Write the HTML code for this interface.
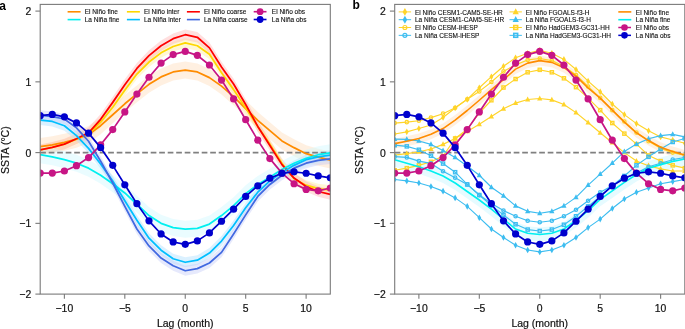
<!DOCTYPE html>
<html><head><meta charset="utf-8"><title>ENSO composites</title>
<style>
html,body{margin:0;padding:0;background:#fff;}
body{width:685px;height:329px;overflow:hidden;}
svg{display:block;}
text{font-family:"Liberation Sans",sans-serif;fill:#111;}
.tk{font-size:10.4px;stroke:#111;stroke-width:0.2px;}
.ti{font-size:10.5px;stroke:#111;stroke-width:0.2px;}
.lg{font-size:6.5px;fill:#111;stroke:#111;stroke-width:0.12px;}
.pl{font-size:12px;font-weight:bold;fill:#000;}
</style></head><body>
<div style="will-change:transform;width:685px;height:329px"><svg width="685" height="329" viewBox="0 0 685 329">
<clipPath id="ca"><rect x="40.20" y="4.40" width="290.10" height="289.70"/></clipPath><g clip-path="url(#ca)"><polygon points="40.20,138.10 52.29,136.33 64.38,133.78 76.46,130.67 88.55,125.93 100.64,117.23 112.73,106.26 124.81,95.29 136.90,85.39 148.99,75.84 161.07,68.41 173.16,63.46 185.25,61.54 197.34,63.46 209.43,69.12 221.51,77.61 233.60,88.22 245.69,100.25 257.78,111.92 269.86,122.18 281.95,132.44 294.04,139.16 306.12,145.17 318.21,148.71 330.30,151.54 330.30,168.52 318.21,165.69 306.12,162.15 294.04,156.14 281.95,149.42 269.86,139.16 257.78,128.90 245.69,117.23 233.60,105.20 221.51,94.59 209.43,86.10 197.34,80.44 185.25,78.52 173.16,80.44 161.07,85.39 148.99,92.82 136.90,102.37 124.81,112.27 112.73,123.24 100.64,134.21 88.55,142.91 76.46,147.65 64.38,150.76 52.29,153.31 40.20,155.08" fill="#FFE2C4" fill-opacity="0.50" stroke="none"/><polygon points="40.20,144.82 52.29,142.34 64.38,139.16 76.46,134.21 88.55,129.25 100.64,117.23 112.73,102.37 124.81,85.39 136.90,69.12 148.99,57.09 161.07,47.89 173.16,41.52 185.25,37.99 197.34,40.82 209.43,49.31 221.51,67.70 233.60,84.68 245.69,103.08 257.78,121.47 269.86,139.16 281.95,158.26 294.04,173.83 306.12,180.19 318.21,183.73 330.30,185.15 330.30,195.05 318.21,193.64 306.12,190.10 294.04,183.73 281.95,168.17 269.86,149.06 257.78,131.38 245.69,112.98 233.60,94.59 221.51,77.61 209.43,59.21 197.34,50.72 185.25,47.89 173.16,51.43 161.07,57.80 148.99,66.99 136.90,79.02 124.81,95.29 112.73,112.27 100.64,127.13 88.55,139.16 76.46,144.11 64.38,149.06 52.29,152.25 40.20,154.72" fill="#FFF0A0" fill-opacity="0.45" stroke="none"/><polygon points="40.20,144.46 52.29,141.99 64.38,138.80 76.46,133.50 88.55,127.48 100.64,114.04 112.73,97.06 124.81,79.37 136.90,63.10 148.99,50.37 161.07,40.46 173.16,33.39 185.25,29.42 197.34,31.97 209.43,42.58 221.51,61.69 233.60,78.67 245.69,99.18 257.78,121.12 269.86,140.22 281.95,159.32 294.04,172.76 306.12,181.25 318.21,186.21 330.30,189.04 330.30,199.65 318.21,196.82 306.12,191.87 294.04,183.38 281.95,169.93 269.86,150.83 257.78,131.73 245.69,109.80 233.60,89.28 221.51,72.30 209.43,53.20 197.34,42.58 185.25,40.04 173.16,44.00 161.07,51.07 148.99,60.98 136.90,73.71 124.81,89.99 112.73,107.67 100.64,124.65 88.55,138.10 76.46,144.11 64.38,149.42 52.29,152.60 40.20,155.08" fill="#FFB0B0" fill-opacity="0.40" stroke="none"/><polygon points="40.20,146.23 52.29,148.36 64.38,151.19 76.46,154.72 88.55,159.68 100.64,166.75 112.73,175.24 124.81,184.44 136.90,195.76 148.99,207.08 161.07,214.86 173.16,219.11 185.25,220.73 197.34,219.81 209.43,215.57 221.51,207.08 233.60,197.17 245.69,185.15 257.78,175.95 269.86,168.87 281.95,161.09 294.04,154.72 306.12,149.77 318.21,146.23 330.30,144.32 330.30,161.30 318.21,163.21 306.12,166.75 294.04,171.70 281.95,178.07 269.86,185.85 257.78,192.93 245.69,202.12 233.60,214.15 221.51,224.06 209.43,232.55 197.34,236.79 185.25,237.71 173.16,236.09 161.07,231.84 148.99,224.06 136.90,212.74 124.81,201.42 112.73,192.22 100.64,183.73 88.55,176.66 76.46,171.70 64.38,168.17 52.29,165.34 40.20,163.21" fill="#D0F8FF" fill-opacity="0.45" stroke="none"/><polygon points="40.20,115.10 52.29,116.52 64.38,120.76 76.46,130.67 88.55,143.40 100.64,158.97 112.73,175.95 124.81,195.76 136.90,215.21 148.99,233.26 161.07,245.28 173.16,253.77 185.25,257.31 197.34,255.19 209.43,248.11 221.51,236.09 233.60,220.52 245.69,202.83 257.78,187.27 269.86,175.95 281.95,167.46 294.04,160.38 306.12,154.72 318.21,151.89 330.30,150.27 330.30,160.17 318.21,161.80 306.12,164.63 294.04,170.29 281.95,177.36 269.86,185.85 257.78,197.17 245.69,212.74 233.60,230.43 221.51,245.99 209.43,258.02 197.34,265.09 185.25,267.22 173.16,263.68 161.07,255.19 148.99,243.16 136.90,225.12 124.81,205.66 112.73,185.85 100.64,168.87 88.55,153.31 76.46,140.57 64.38,130.67 52.29,126.42 40.20,125.01" fill="#B0E0FF" fill-opacity="0.45" stroke="none"/><polygon points="40.20,110.15 52.29,111.57 64.38,114.04 76.46,122.89 88.55,136.33 100.64,156.14 112.73,178.07 124.81,201.42 136.90,224.06 148.99,241.04 161.07,253.07 173.16,260.85 185.25,265.80 197.34,263.68 209.43,258.02 221.51,247.41 233.60,229.01 245.69,209.91 257.78,191.51 269.86,179.49 281.95,170.29 294.04,163.21 306.12,158.26 318.21,155.43 330.30,154.02 330.30,163.92 318.21,165.34 306.12,168.17 294.04,173.12 281.95,180.19 269.86,189.39 257.78,201.42 245.69,219.81 233.60,238.92 221.51,257.31 209.43,267.92 197.34,273.58 185.25,275.71 173.16,270.75 161.07,262.97 148.99,250.94 136.90,233.96 124.81,211.32 112.73,187.98 100.64,166.04 88.55,146.23 76.46,132.79 64.38,123.95 52.29,121.47 40.20,120.06" fill="#C0C8F8" fill-opacity="0.40" stroke="none"/><line x1="40.20" y1="152.60" x2="330.30" y2="152.60" stroke="#808080" stroke-width="1.6" stroke-dasharray="5.7,2.8"/><polyline points="40.20,146.59 52.29,144.82 64.38,142.27 76.46,139.16 88.55,134.42 100.64,125.72 112.73,114.75 124.81,103.78 136.90,93.88 148.99,84.33 161.07,76.90 173.16,71.95 185.25,70.03 197.34,71.95 209.43,77.61 221.51,86.10 233.60,96.71 245.69,108.74 257.78,120.41 269.86,130.67 281.95,140.93 294.04,147.65 306.12,153.66 318.21,157.20 330.30,160.03" fill="none" stroke="#FF8C00" stroke-width="1.75" stroke-linejoin="round"/><polyline points="40.20,149.77 52.29,147.29 64.38,144.11 76.46,139.16 88.55,134.21 100.64,122.18 112.73,107.32 124.81,90.34 136.90,74.07 148.99,62.04 161.07,52.84 173.16,46.48 185.25,42.94 197.34,45.77 209.43,54.26 221.51,72.65 233.60,89.63 245.69,108.03 257.78,126.42 269.86,144.11 281.95,163.21 294.04,178.78 306.12,185.15 318.21,188.68 330.30,190.10" fill="none" stroke="#FFD700" stroke-width="1.75" stroke-linejoin="round"/><polyline points="40.20,149.77 52.29,147.29 64.38,144.11 76.46,138.80 88.55,132.79 100.64,119.35 112.73,102.37 124.81,84.68 136.90,68.41 148.99,55.67 161.07,45.77 173.16,38.69 185.25,34.73 197.34,37.28 209.43,47.89 221.51,66.99 233.60,83.97 245.69,104.49 257.78,126.42 269.86,145.53 281.95,164.63 294.04,178.07 306.12,186.56 318.21,191.51 330.30,194.34" fill="none" stroke="#FF0000" stroke-width="1.75" stroke-linejoin="round"/><polyline points="40.20,154.72 52.29,156.85 64.38,159.68 76.46,163.21 88.55,168.17 100.64,175.24 112.73,183.73 124.81,192.93 136.90,204.25 148.99,215.57 161.07,223.35 173.16,227.60 185.25,229.22 197.34,228.30 209.43,224.06 221.51,215.57 233.60,205.66 245.69,193.64 257.78,184.44 269.86,177.36 281.95,169.58 294.04,163.21 306.12,158.26 318.21,154.72 330.30,152.81" fill="none" stroke="#00F0F0" stroke-width="1.75" stroke-linejoin="round"/><polyline points="40.20,120.06 52.29,121.47 64.38,125.72 76.46,135.62 88.55,148.36 100.64,163.92 112.73,180.90 124.81,200.71 136.90,220.17 148.99,238.21 161.07,250.24 173.16,258.73 185.25,262.26 197.34,260.14 209.43,253.07 221.51,241.04 233.60,225.47 245.69,207.79 257.78,192.22 269.86,180.90 281.95,172.41 294.04,165.34 306.12,159.68 318.21,156.85 330.30,155.22" fill="none" stroke="#00BFFF" stroke-width="1.75" stroke-linejoin="round"/><polyline points="40.20,115.10 52.29,116.52 64.38,118.99 76.46,127.84 88.55,141.28 100.64,161.09 112.73,183.02 124.81,206.37 136.90,229.01 148.99,245.99 161.07,258.02 173.16,265.80 185.25,270.75 197.34,268.63 209.43,262.97 221.51,252.36 233.60,233.96 245.69,214.86 257.78,196.47 269.86,184.44 281.95,175.24 294.04,168.17 306.12,163.21 318.21,160.38 330.30,158.97" fill="none" stroke="#4169E1" stroke-width="1.75" stroke-linejoin="round"/><polyline points="40.20,173.12 52.29,173.12 64.38,171.00 76.46,165.69 88.55,157.55 100.64,144.82 112.73,129.61 124.81,111.92 136.90,94.09 148.99,77.25 161.07,63.10 173.16,54.61 185.25,51.43 197.34,55.32 209.43,65.01 221.51,80.08 233.60,98.97 245.69,119.70 257.78,140.22 269.86,158.61 281.95,173.12 294.04,183.73 306.12,189.39 318.21,190.81 330.30,187.98" fill="none" stroke="#C71585" stroke-width="1.70" stroke-linejoin="round"/><circle cx="40.20" cy="173.12" r="3.60" fill="#C71585"/><circle cx="52.29" cy="173.12" r="3.60" fill="#C71585"/><circle cx="64.38" cy="171.00" r="3.60" fill="#C71585"/><circle cx="76.46" cy="165.69" r="3.60" fill="#C71585"/><circle cx="88.55" cy="157.55" r="3.60" fill="#C71585"/><circle cx="100.64" cy="144.82" r="3.60" fill="#C71585"/><circle cx="112.73" cy="129.61" r="3.60" fill="#C71585"/><circle cx="124.81" cy="111.92" r="3.60" fill="#C71585"/><circle cx="136.90" cy="94.09" r="3.60" fill="#C71585"/><circle cx="148.99" cy="77.25" r="3.60" fill="#C71585"/><circle cx="161.07" cy="63.10" r="3.60" fill="#C71585"/><circle cx="173.16" cy="54.61" r="3.60" fill="#C71585"/><circle cx="185.25" cy="51.43" r="3.60" fill="#C71585"/><circle cx="197.34" cy="55.32" r="3.60" fill="#C71585"/><circle cx="209.43" cy="65.01" r="3.60" fill="#C71585"/><circle cx="221.51" cy="80.08" r="3.60" fill="#C71585"/><circle cx="233.60" cy="98.97" r="3.60" fill="#C71585"/><circle cx="245.69" cy="119.70" r="3.60" fill="#C71585"/><circle cx="257.78" cy="140.22" r="3.60" fill="#C71585"/><circle cx="269.86" cy="158.61" r="3.60" fill="#C71585"/><circle cx="281.95" cy="173.12" r="3.60" fill="#C71585"/><circle cx="294.04" cy="183.73" r="3.60" fill="#C71585"/><circle cx="306.12" cy="189.39" r="3.60" fill="#C71585"/><circle cx="318.21" cy="190.81" r="3.60" fill="#C71585"/><circle cx="330.30" cy="187.98" r="3.60" fill="#C71585"/><polyline points="40.20,115.67 52.29,114.40 64.38,116.87 76.46,122.89 88.55,133.14 100.64,147.65 112.73,165.34 124.81,184.79 136.90,203.68 148.99,220.87 161.07,233.96 173.16,241.96 185.25,244.36 197.34,240.90 209.43,232.90 221.51,221.23 233.60,209.20 245.69,196.47 257.78,185.85 269.86,178.21 281.95,173.26 294.04,171.84 306.12,173.26 318.21,175.95 330.30,177.79" fill="none" stroke="#0000CD" stroke-width="1.70" stroke-linejoin="round"/><circle cx="40.20" cy="115.67" r="3.60" fill="#0000CD"/><circle cx="52.29" cy="114.40" r="3.60" fill="#0000CD"/><circle cx="64.38" cy="116.87" r="3.60" fill="#0000CD"/><circle cx="76.46" cy="122.89" r="3.60" fill="#0000CD"/><circle cx="88.55" cy="133.14" r="3.60" fill="#0000CD"/><circle cx="100.64" cy="147.65" r="3.60" fill="#0000CD"/><circle cx="112.73" cy="165.34" r="3.60" fill="#0000CD"/><circle cx="124.81" cy="184.79" r="3.60" fill="#0000CD"/><circle cx="136.90" cy="203.68" r="3.60" fill="#0000CD"/><circle cx="148.99" cy="220.87" r="3.60" fill="#0000CD"/><circle cx="161.07" cy="233.96" r="3.60" fill="#0000CD"/><circle cx="173.16" cy="241.96" r="3.60" fill="#0000CD"/><circle cx="185.25" cy="244.36" r="3.60" fill="#0000CD"/><circle cx="197.34" cy="240.90" r="3.60" fill="#0000CD"/><circle cx="209.43" cy="232.90" r="3.60" fill="#0000CD"/><circle cx="221.51" cy="221.23" r="3.60" fill="#0000CD"/><circle cx="233.60" cy="209.20" r="3.60" fill="#0000CD"/><circle cx="245.69" cy="196.47" r="3.60" fill="#0000CD"/><circle cx="257.78" cy="185.85" r="3.60" fill="#0000CD"/><circle cx="269.86" cy="178.21" r="3.60" fill="#0000CD"/><circle cx="281.95" cy="173.26" r="3.60" fill="#0000CD"/><circle cx="294.04" cy="171.84" r="3.60" fill="#0000CD"/><circle cx="306.12" cy="173.26" r="3.60" fill="#0000CD"/><circle cx="318.21" cy="175.95" r="3.60" fill="#0000CD"/><circle cx="330.30" cy="177.79" r="3.60" fill="#0000CD"/></g><rect x="40.20" y="4.40" width="290.10" height="289.70" fill="none" stroke="#7a7a7a" stroke-width="1.1"/><line x1="35.40" y1="11.10" x2="40.20" y2="11.10" stroke="#7a7a7a" stroke-width="1.1"/><text x="31.20" y="15.10" text-anchor="end" class="tk">2</text><line x1="35.40" y1="81.85" x2="40.20" y2="81.85" stroke="#7a7a7a" stroke-width="1.1"/><text x="31.20" y="85.85" text-anchor="end" class="tk">1</text><line x1="35.40" y1="152.60" x2="40.20" y2="152.60" stroke="#7a7a7a" stroke-width="1.1"/><text x="31.20" y="156.60" text-anchor="end" class="tk">0</text><line x1="35.40" y1="223.35" x2="40.20" y2="223.35" stroke="#7a7a7a" stroke-width="1.1"/><text x="31.20" y="227.35" text-anchor="end" class="tk">−1</text><line x1="35.40" y1="294.10" x2="40.20" y2="294.10" stroke="#7a7a7a" stroke-width="1.1"/><text x="31.20" y="298.10" text-anchor="end" class="tk">−2</text><line x1="64.38" y1="294.10" x2="64.38" y2="298.70" stroke="#7a7a7a" stroke-width="1.1"/><text x="64.38" y="312.00" text-anchor="middle" class="tk">−10</text><line x1="124.81" y1="294.10" x2="124.81" y2="298.70" stroke="#7a7a7a" stroke-width="1.1"/><text x="124.81" y="312.00" text-anchor="middle" class="tk">−5</text><line x1="185.25" y1="294.10" x2="185.25" y2="298.70" stroke="#7a7a7a" stroke-width="1.1"/><text x="185.25" y="312.00" text-anchor="middle" class="tk">0</text><line x1="245.69" y1="294.10" x2="245.69" y2="298.70" stroke="#7a7a7a" stroke-width="1.1"/><text x="245.69" y="312.00" text-anchor="middle" class="tk">5</text><line x1="306.12" y1="294.10" x2="306.12" y2="298.70" stroke="#7a7a7a" stroke-width="1.1"/><text x="306.12" y="312.00" text-anchor="middle" class="tk">10</text><text x="185.25" y="326.70" text-anchor="middle" class="ti">Lag (month)</text><text transform="translate(8.50,150.20) rotate(-90)" text-anchor="middle" class="ti">SSTA (°C)</text><line x1="67.60" y1="11.80" x2="80.60" y2="11.80" stroke="#FF8C00" stroke-width="1.60"/><text x="84.70" y="14.40" class="lg">El Niño fine</text><line x1="67.60" y1="19.60" x2="80.60" y2="19.60" stroke="#00F0F0" stroke-width="1.60"/><text x="84.70" y="22.20" class="lg">La Niña fine</text><line x1="126.90" y1="11.80" x2="139.90" y2="11.80" stroke="#FFD700" stroke-width="1.60"/><text x="144.00" y="14.40" class="lg">El Niño inter</text><line x1="126.90" y1="19.60" x2="139.90" y2="19.60" stroke="#00BFFF" stroke-width="1.60"/><text x="144.00" y="22.20" class="lg">La Niña inter</text><line x1="186.90" y1="11.80" x2="199.90" y2="11.80" stroke="#FF0000" stroke-width="1.60"/><text x="204.00" y="14.40" class="lg">El Niño coarse</text><line x1="186.90" y1="19.60" x2="199.90" y2="19.60" stroke="#4169E1" stroke-width="1.60"/><text x="204.00" y="22.20" class="lg">La Niña coarse</text><line x1="253.7" y1="11.7" x2="266.5" y2="11.7" stroke="#C71585" stroke-width="1.6"/><circle cx="260.1" cy="11.7" r="3.4" fill="#C71585"/><text x="271.80" y="14.30" class="lg">El Niño obs</text><line x1="253.7" y1="19.5" x2="266.5" y2="19.5" stroke="#0000CD" stroke-width="1.6"/><circle cx="260.1" cy="19.5" r="3.4" fill="#0000CD"/><text x="271.80" y="22.10" class="lg">La Niña obs</text>
<clipPath id="cb"><rect x="394.70" y="4.40" width="290.10" height="289.70"/></clipPath><g clip-path="url(#cb)"><polygon points="394.70,138.66 406.79,136.33 418.88,133.50 430.96,129.25 443.05,123.59 455.14,115.10 467.23,105.55 479.31,95.29 491.40,84.68 503.49,74.78 515.58,64.16 527.66,58.15 539.75,55.67 551.84,57.44 563.92,62.75 576.01,71.24 588.10,83.05 600.19,93.17 612.27,105.20 624.36,117.23 636.45,127.84 648.54,135.62 660.62,142.27 672.71,146.59 684.80,150.12 684.80,160.03 672.71,156.49 660.62,152.18 648.54,145.53 636.45,137.74 624.36,127.13 612.27,115.10 600.19,103.08 588.10,92.96 576.01,81.14 563.92,72.65 551.84,67.35 539.75,65.58 527.66,68.05 515.58,74.07 503.49,84.68 491.40,94.59 479.31,105.20 467.23,115.46 455.14,125.01 443.05,133.50 430.96,139.16 418.88,143.40 406.79,146.23 394.70,148.57" fill="#FFE2C4" fill-opacity="0.50" stroke="none"/><polygon points="394.70,152.60 406.79,156.14 418.88,159.68 430.96,163.92 443.05,168.87 455.14,175.95 467.23,184.44 479.31,192.93 491.40,202.13 503.49,212.03 515.58,221.94 527.66,226.18 539.75,227.45 551.84,226.18 563.92,221.94 576.01,213.44 588.10,203.54 600.19,192.22 612.27,183.73 624.36,175.24 636.45,167.46 648.54,161.09 660.62,157.55 672.71,154.37 684.80,151.89 684.80,166.04 672.71,168.52 660.62,171.70 648.54,175.24 636.45,181.61 624.36,189.39 612.27,197.88 600.19,206.37 588.10,217.69 576.01,227.60 563.92,236.09 551.84,240.33 539.75,241.60 527.66,240.33 515.58,236.09 503.49,226.18 491.40,216.28 479.31,207.08 467.23,198.59 455.14,190.10 443.05,183.02 430.96,178.07 418.88,173.83 406.79,170.29 394.70,166.75" fill="#C4F6FF" fill-opacity="0.42" stroke="none"/><line x1="394.70" y1="152.60" x2="684.80" y2="152.60" stroke="#808080" stroke-width="1.6" stroke-dasharray="5.7,2.8"/><polyline points="394.70,133.99 406.79,131.87 418.88,128.55 430.96,125.01 443.05,117.51 455.14,108.03 467.23,99.33 479.31,87.72 491.40,76.69 503.49,66.29 515.58,57.80 527.66,53.20 539.75,50.37 551.84,53.20 563.92,59.42 576.01,69.47 588.10,81.14 600.19,91.76 612.27,103.99 624.36,114.61 636.45,123.59 648.54,130.81 660.62,136.89 672.71,140.01 684.80,143.26" fill="none" stroke="#FFD42A" stroke-width="1.15" stroke-linejoin="round"/><path d="M394.70 130.69L396.60 133.99L394.70 137.29L392.80 133.99Z" fill="#FFD42A"/><path d="M406.79 128.57L408.69 131.87L406.79 135.17L404.89 131.87Z" fill="#FFD42A"/><path d="M418.88 125.25L420.77 128.55L418.88 131.85L416.98 128.55Z" fill="#FFD42A"/><path d="M430.96 121.71L432.86 125.01L430.96 128.31L429.06 125.01Z" fill="#FFD42A"/><path d="M443.05 114.21L444.95 117.51L443.05 120.81L441.15 117.51Z" fill="#FFD42A"/><path d="M455.14 104.73L457.04 108.03L455.14 111.33L453.24 108.03Z" fill="#FFD42A"/><path d="M467.23 96.03L469.12 99.33L467.23 102.63L465.33 99.33Z" fill="#FFD42A"/><path d="M479.31 84.42L481.21 87.72L479.31 91.02L477.41 87.72Z" fill="#FFD42A"/><path d="M491.40 73.39L493.30 76.69L491.40 79.99L489.50 76.69Z" fill="#FFD42A"/><path d="M503.49 62.99L505.39 66.29L503.49 69.59L501.59 66.29Z" fill="#FFD42A"/><path d="M515.58 54.50L517.48 57.80L515.58 61.10L513.68 57.80Z" fill="#FFD42A"/><path d="M527.66 49.90L529.56 53.20L527.66 56.50L525.76 53.20Z" fill="#FFD42A"/><path d="M539.75 47.07L541.65 50.37L539.75 53.67L537.85 50.37Z" fill="#FFD42A"/><path d="M551.84 49.90L553.74 53.20L551.84 56.50L549.94 53.20Z" fill="#FFD42A"/><path d="M563.92 56.12L565.82 59.42L563.92 62.72L562.02 59.42Z" fill="#FFD42A"/><path d="M576.01 66.17L577.91 69.47L576.01 72.77L574.11 69.47Z" fill="#FFD42A"/><path d="M588.10 77.84L590.00 81.14L588.10 84.44L586.20 81.14Z" fill="#FFD42A"/><path d="M600.19 88.46L602.09 91.76L600.19 95.06L598.29 91.76Z" fill="#FFD42A"/><path d="M612.27 100.69L614.17 103.99L612.27 107.29L610.38 103.99Z" fill="#FFD42A"/><path d="M624.36 111.31L626.26 114.61L624.36 117.91L622.46 114.61Z" fill="#FFD42A"/><path d="M636.45 120.29L638.35 123.59L636.45 126.89L634.55 123.59Z" fill="#FFD42A"/><path d="M648.54 127.51L650.44 130.81L648.54 134.11L646.64 130.81Z" fill="#FFD42A"/><path d="M660.62 133.59L662.52 136.89L660.62 140.19L658.73 136.89Z" fill="#FFD42A"/><path d="M672.71 136.71L674.61 140.01L672.71 143.31L670.81 140.01Z" fill="#FFD42A"/><path d="M684.80 139.96L686.70 143.26L684.80 146.56L682.90 143.26Z" fill="#FFD42A"/><polyline points="394.70,123.10 406.79,122.18 418.88,120.76 430.96,117.58 443.05,113.69 455.14,107.74 467.23,99.33 479.31,91.40 491.40,81.99 503.49,71.38 515.58,64.87 527.66,59.92 539.75,58.50 551.84,60.63 563.92,66.29 576.01,74.99 588.10,86.52 600.19,97.91 612.27,110.15 624.36,121.47 636.45,132.58 648.54,141.28 660.62,148.36 672.71,152.60 684.80,155.43" fill="none" stroke="#FFD42A" stroke-width="1.15" stroke-linejoin="round"/><circle cx="394.70" cy="123.10" r="1.70" fill="none" stroke="#FFD42A" stroke-width="1.25"/><circle cx="406.79" cy="122.18" r="1.70" fill="none" stroke="#FFD42A" stroke-width="1.25"/><circle cx="418.88" cy="120.76" r="1.70" fill="none" stroke="#FFD42A" stroke-width="1.25"/><circle cx="430.96" cy="117.58" r="1.70" fill="none" stroke="#FFD42A" stroke-width="1.25"/><circle cx="443.05" cy="113.69" r="1.70" fill="none" stroke="#FFD42A" stroke-width="1.25"/><circle cx="455.14" cy="107.74" r="1.70" fill="none" stroke="#FFD42A" stroke-width="1.25"/><circle cx="467.23" cy="99.33" r="1.70" fill="none" stroke="#FFD42A" stroke-width="1.25"/><circle cx="479.31" cy="91.40" r="1.70" fill="none" stroke="#FFD42A" stroke-width="1.25"/><circle cx="491.40" cy="81.99" r="1.70" fill="none" stroke="#FFD42A" stroke-width="1.25"/><circle cx="503.49" cy="71.38" r="1.70" fill="none" stroke="#FFD42A" stroke-width="1.25"/><circle cx="515.58" cy="64.87" r="1.70" fill="none" stroke="#FFD42A" stroke-width="1.25"/><circle cx="527.66" cy="59.92" r="1.70" fill="none" stroke="#FFD42A" stroke-width="1.25"/><circle cx="539.75" cy="58.50" r="1.70" fill="none" stroke="#FFD42A" stroke-width="1.25"/><circle cx="551.84" cy="60.63" r="1.70" fill="none" stroke="#FFD42A" stroke-width="1.25"/><circle cx="563.92" cy="66.29" r="1.70" fill="none" stroke="#FFD42A" stroke-width="1.25"/><circle cx="576.01" cy="74.99" r="1.70" fill="none" stroke="#FFD42A" stroke-width="1.25"/><circle cx="588.10" cy="86.52" r="1.70" fill="none" stroke="#FFD42A" stroke-width="1.25"/><circle cx="600.19" cy="97.91" r="1.70" fill="none" stroke="#FFD42A" stroke-width="1.25"/><circle cx="612.27" cy="110.15" r="1.70" fill="none" stroke="#FFD42A" stroke-width="1.25"/><circle cx="624.36" cy="121.47" r="1.70" fill="none" stroke="#FFD42A" stroke-width="1.25"/><circle cx="636.45" cy="132.58" r="1.70" fill="none" stroke="#FFD42A" stroke-width="1.25"/><circle cx="648.54" cy="141.28" r="1.70" fill="none" stroke="#FFD42A" stroke-width="1.25"/><circle cx="660.62" cy="148.36" r="1.70" fill="none" stroke="#FFD42A" stroke-width="1.25"/><circle cx="672.71" cy="152.60" r="1.70" fill="none" stroke="#FFD42A" stroke-width="1.25"/><circle cx="684.80" cy="155.43" r="1.70" fill="none" stroke="#FFD42A" stroke-width="1.25"/><polyline points="394.70,155.08 406.79,153.59 418.88,151.89 430.96,149.06 443.05,144.39 455.14,138.45 467.23,131.38 479.31,124.30 491.40,116.52 503.49,108.74 515.58,103.08 527.66,99.54 539.75,98.48 551.84,99.89 563.92,104.49 576.01,112.63 588.10,122.53 600.19,132.79 612.27,142.70 624.36,152.60 636.45,161.09 648.54,165.69 660.62,168.87 672.71,171.00 684.80,171.00" fill="none" stroke="#FFD42A" stroke-width="1.15" stroke-linejoin="round"/><path d="M394.70 151.98L397.30 156.98L392.10 156.98Z" fill="#FFD42A"/><path d="M406.79 150.49L409.39 155.49L404.19 155.49Z" fill="#FFD42A"/><path d="M418.88 148.79L421.48 153.79L416.27 153.79Z" fill="#FFD42A"/><path d="M430.96 145.96L433.56 150.96L428.36 150.96Z" fill="#FFD42A"/><path d="M443.05 141.29L445.65 146.29L440.45 146.29Z" fill="#FFD42A"/><path d="M455.14 135.35L457.74 140.35L452.54 140.35Z" fill="#FFD42A"/><path d="M467.23 128.28L469.83 133.28L464.62 133.28Z" fill="#FFD42A"/><path d="M479.31 121.20L481.91 126.20L476.71 126.20Z" fill="#FFD42A"/><path d="M491.40 113.42L494.00 118.42L488.80 118.42Z" fill="#FFD42A"/><path d="M503.49 105.64L506.09 110.64L500.89 110.64Z" fill="#FFD42A"/><path d="M515.58 99.98L518.18 104.98L512.98 104.98Z" fill="#FFD42A"/><path d="M527.66 96.44L530.26 101.44L525.06 101.44Z" fill="#FFD42A"/><path d="M539.75 95.38L542.35 100.38L537.15 100.38Z" fill="#FFD42A"/><path d="M551.84 96.79L554.44 101.79L549.24 101.79Z" fill="#FFD42A"/><path d="M563.92 101.39L566.52 106.39L561.32 106.39Z" fill="#FFD42A"/><path d="M576.01 109.53L578.61 114.53L573.41 114.53Z" fill="#FFD42A"/><path d="M588.10 119.43L590.70 124.43L585.50 124.43Z" fill="#FFD42A"/><path d="M600.19 129.69L602.79 134.69L597.59 134.69Z" fill="#FFD42A"/><path d="M612.27 139.60L614.88 144.60L609.67 144.60Z" fill="#FFD42A"/><path d="M624.36 149.50L626.96 154.50L621.76 154.50Z" fill="#FFD42A"/><path d="M636.45 157.99L639.05 162.99L633.85 162.99Z" fill="#FFD42A"/><path d="M648.54 162.59L651.14 167.59L645.94 167.59Z" fill="#FFD42A"/><path d="M660.62 165.77L663.23 170.77L658.02 170.77Z" fill="#FFD42A"/><path d="M672.71 167.90L675.31 172.90L670.11 172.90Z" fill="#FFD42A"/><path d="M684.80 167.90L687.40 172.90L682.20 172.90Z" fill="#FFD42A"/><polyline points="394.70,170.29 406.79,168.17 418.88,165.34 430.96,161.80 443.05,156.14 455.14,138.45 467.23,129.25 479.31,112.98 491.40,100.25 503.49,87.51 515.58,79.02 527.66,72.30 539.75,69.82 551.84,72.30 563.92,78.31 576.01,87.16 588.10,98.12 600.19,110.15 612.27,123.03 624.36,133.64 636.45,144.11 648.54,155.43 660.62,161.09 672.71,165.34 684.80,168.17" fill="none" stroke="#FFD42A" stroke-width="1.15" stroke-linejoin="round"/><rect x="393.10" y="168.69" width="3.20" height="3.20" fill="none" stroke="#FFD42A" stroke-width="1.35"/><rect x="405.19" y="166.57" width="3.20" height="3.20" fill="none" stroke="#FFD42A" stroke-width="1.35"/><rect x="417.27" y="163.74" width="3.20" height="3.20" fill="none" stroke="#FFD42A" stroke-width="1.35"/><rect x="429.36" y="160.20" width="3.20" height="3.20" fill="none" stroke="#FFD42A" stroke-width="1.35"/><rect x="441.45" y="154.54" width="3.20" height="3.20" fill="none" stroke="#FFD42A" stroke-width="1.35"/><rect x="453.54" y="136.85" width="3.20" height="3.20" fill="none" stroke="#FFD42A" stroke-width="1.35"/><rect x="465.62" y="127.65" width="3.20" height="3.20" fill="none" stroke="#FFD42A" stroke-width="1.35"/><rect x="477.71" y="111.38" width="3.20" height="3.20" fill="none" stroke="#FFD42A" stroke-width="1.35"/><rect x="489.80" y="98.65" width="3.20" height="3.20" fill="none" stroke="#FFD42A" stroke-width="1.35"/><rect x="501.89" y="85.91" width="3.20" height="3.20" fill="none" stroke="#FFD42A" stroke-width="1.35"/><rect x="513.98" y="77.42" width="3.20" height="3.20" fill="none" stroke="#FFD42A" stroke-width="1.35"/><rect x="526.06" y="70.70" width="3.20" height="3.20" fill="none" stroke="#FFD42A" stroke-width="1.35"/><rect x="538.15" y="68.22" width="3.20" height="3.20" fill="none" stroke="#FFD42A" stroke-width="1.35"/><rect x="550.24" y="70.70" width="3.20" height="3.20" fill="none" stroke="#FFD42A" stroke-width="1.35"/><rect x="562.32" y="76.71" width="3.20" height="3.20" fill="none" stroke="#FFD42A" stroke-width="1.35"/><rect x="574.41" y="85.56" width="3.20" height="3.20" fill="none" stroke="#FFD42A" stroke-width="1.35"/><rect x="586.50" y="96.52" width="3.20" height="3.20" fill="none" stroke="#FFD42A" stroke-width="1.35"/><rect x="598.59" y="108.55" width="3.20" height="3.20" fill="none" stroke="#FFD42A" stroke-width="1.35"/><rect x="610.67" y="121.43" width="3.20" height="3.20" fill="none" stroke="#FFD42A" stroke-width="1.35"/><rect x="622.76" y="132.04" width="3.20" height="3.20" fill="none" stroke="#FFD42A" stroke-width="1.35"/><rect x="634.85" y="142.51" width="3.20" height="3.20" fill="none" stroke="#FFD42A" stroke-width="1.35"/><rect x="646.94" y="153.83" width="3.20" height="3.20" fill="none" stroke="#FFD42A" stroke-width="1.35"/><rect x="659.02" y="159.49" width="3.20" height="3.20" fill="none" stroke="#FFD42A" stroke-width="1.35"/><rect x="671.11" y="163.74" width="3.20" height="3.20" fill="none" stroke="#FFD42A" stroke-width="1.35"/><rect x="683.20" y="166.57" width="3.20" height="3.20" fill="none" stroke="#FFD42A" stroke-width="1.35"/><polyline points="394.70,179.49 406.79,180.90 418.88,183.02 430.96,186.56 443.05,191.16 455.14,197.88 467.23,206.37 479.31,217.69 491.40,229.01 503.49,237.50 515.58,245.28 527.66,249.95 539.75,251.93 551.84,249.95 563.92,245.28 576.01,237.50 588.10,227.60 600.19,219.11 612.27,208.49 624.36,198.94 636.45,192.22 648.54,187.98 660.62,183.73 672.71,181.61 684.80,179.49" fill="none" stroke="#3DBDF0" stroke-width="1.15" stroke-linejoin="round"/><path d="M394.70 176.19L396.60 179.49L394.70 182.79L392.80 179.49Z" fill="#3DBDF0"/><path d="M406.79 177.60L408.69 180.90L406.79 184.20L404.89 180.90Z" fill="#3DBDF0"/><path d="M418.88 179.72L420.77 183.02L418.88 186.32L416.98 183.02Z" fill="#3DBDF0"/><path d="M430.96 183.26L432.86 186.56L430.96 189.86L429.06 186.56Z" fill="#3DBDF0"/><path d="M443.05 187.86L444.95 191.16L443.05 194.46L441.15 191.16Z" fill="#3DBDF0"/><path d="M455.14 194.58L457.04 197.88L455.14 201.18L453.24 197.88Z" fill="#3DBDF0"/><path d="M467.23 203.07L469.12 206.37L467.23 209.67L465.33 206.37Z" fill="#3DBDF0"/><path d="M479.31 214.39L481.21 217.69L479.31 220.99L477.41 217.69Z" fill="#3DBDF0"/><path d="M491.40 225.71L493.30 229.01L491.40 232.31L489.50 229.01Z" fill="#3DBDF0"/><path d="M503.49 234.20L505.39 237.50L503.49 240.80L501.59 237.50Z" fill="#3DBDF0"/><path d="M515.58 241.98L517.48 245.28L515.58 248.58L513.68 245.28Z" fill="#3DBDF0"/><path d="M527.66 246.65L529.56 249.95L527.66 253.25L525.76 249.95Z" fill="#3DBDF0"/><path d="M539.75 248.63L541.65 251.93L539.75 255.23L537.85 251.93Z" fill="#3DBDF0"/><path d="M551.84 246.65L553.74 249.95L551.84 253.25L549.94 249.95Z" fill="#3DBDF0"/><path d="M563.92 241.98L565.82 245.28L563.92 248.58L562.02 245.28Z" fill="#3DBDF0"/><path d="M576.01 234.20L577.91 237.50L576.01 240.80L574.11 237.50Z" fill="#3DBDF0"/><path d="M588.10 224.30L590.00 227.60L588.10 230.90L586.20 227.60Z" fill="#3DBDF0"/><path d="M600.19 215.81L602.09 219.11L600.19 222.41L598.29 219.11Z" fill="#3DBDF0"/><path d="M612.27 205.19L614.17 208.49L612.27 211.79L610.38 208.49Z" fill="#3DBDF0"/><path d="M624.36 195.64L626.26 198.94L624.36 202.24L622.46 198.94Z" fill="#3DBDF0"/><path d="M636.45 188.92L638.35 192.22L636.45 195.52L634.55 192.22Z" fill="#3DBDF0"/><path d="M648.54 184.68L650.44 187.98L648.54 191.28L646.64 187.98Z" fill="#3DBDF0"/><path d="M660.62 180.43L662.52 183.73L660.62 187.03L658.73 183.73Z" fill="#3DBDF0"/><path d="M672.71 178.31L674.61 181.61L672.71 184.91L670.81 181.61Z" fill="#3DBDF0"/><path d="M684.80 176.19L686.70 179.49L684.80 182.79L682.90 179.49Z" fill="#3DBDF0"/><polyline points="394.70,156.63 406.79,157.41 418.88,161.09 430.96,163.42 443.05,171.21 455.14,177.65 467.23,184.44 479.31,195.05 491.40,203.54 503.49,210.62 515.58,216.28 527.66,220.73 539.75,222.29 551.84,220.73 563.92,216.28 576.01,209.70 588.10,200.71 600.19,192.22 612.27,185.85 624.36,178.78 636.45,173.12 648.54,166.75 660.62,163.21 672.71,159.68 684.80,157.55" fill="none" stroke="#3DBDF0" stroke-width="1.15" stroke-linejoin="round"/><circle cx="394.70" cy="156.63" r="1.70" fill="none" stroke="#3DBDF0" stroke-width="1.25"/><circle cx="406.79" cy="157.41" r="1.70" fill="none" stroke="#3DBDF0" stroke-width="1.25"/><circle cx="418.88" cy="161.09" r="1.70" fill="none" stroke="#3DBDF0" stroke-width="1.25"/><circle cx="430.96" cy="163.42" r="1.70" fill="none" stroke="#3DBDF0" stroke-width="1.25"/><circle cx="443.05" cy="171.21" r="1.70" fill="none" stroke="#3DBDF0" stroke-width="1.25"/><circle cx="455.14" cy="177.65" r="1.70" fill="none" stroke="#3DBDF0" stroke-width="1.25"/><circle cx="467.23" cy="184.44" r="1.70" fill="none" stroke="#3DBDF0" stroke-width="1.25"/><circle cx="479.31" cy="195.05" r="1.70" fill="none" stroke="#3DBDF0" stroke-width="1.25"/><circle cx="491.40" cy="203.54" r="1.70" fill="none" stroke="#3DBDF0" stroke-width="1.25"/><circle cx="503.49" cy="210.62" r="1.70" fill="none" stroke="#3DBDF0" stroke-width="1.25"/><circle cx="515.58" cy="216.28" r="1.70" fill="none" stroke="#3DBDF0" stroke-width="1.25"/><circle cx="527.66" cy="220.73" r="1.70" fill="none" stroke="#3DBDF0" stroke-width="1.25"/><circle cx="539.75" cy="222.29" r="1.70" fill="none" stroke="#3DBDF0" stroke-width="1.25"/><circle cx="551.84" cy="220.73" r="1.70" fill="none" stroke="#3DBDF0" stroke-width="1.25"/><circle cx="563.92" cy="216.28" r="1.70" fill="none" stroke="#3DBDF0" stroke-width="1.25"/><circle cx="576.01" cy="209.70" r="1.70" fill="none" stroke="#3DBDF0" stroke-width="1.25"/><circle cx="588.10" cy="200.71" r="1.70" fill="none" stroke="#3DBDF0" stroke-width="1.25"/><circle cx="600.19" cy="192.22" r="1.70" fill="none" stroke="#3DBDF0" stroke-width="1.25"/><circle cx="612.27" cy="185.85" r="1.70" fill="none" stroke="#3DBDF0" stroke-width="1.25"/><circle cx="624.36" cy="178.78" r="1.70" fill="none" stroke="#3DBDF0" stroke-width="1.25"/><circle cx="636.45" cy="173.12" r="1.70" fill="none" stroke="#3DBDF0" stroke-width="1.25"/><circle cx="648.54" cy="166.75" r="1.70" fill="none" stroke="#3DBDF0" stroke-width="1.25"/><circle cx="660.62" cy="163.21" r="1.70" fill="none" stroke="#3DBDF0" stroke-width="1.25"/><circle cx="672.71" cy="159.68" r="1.70" fill="none" stroke="#3DBDF0" stroke-width="1.25"/><circle cx="684.80" cy="157.55" r="1.70" fill="none" stroke="#3DBDF0" stroke-width="1.25"/><polyline points="394.70,139.16 406.79,139.37 418.88,140.93 430.96,144.39 443.05,150.48 455.14,157.41 467.23,166.04 479.31,175.24 491.40,187.27 503.49,195.76 515.58,205.87 527.66,211.32 539.75,213.23 551.84,211.32 563.92,205.87 576.01,197.38 588.10,185.15 600.19,174.18 612.27,163.21 624.36,151.54 636.45,144.11 648.54,138.73 660.62,135.62 672.71,134.35 684.80,136.89" fill="none" stroke="#3DBDF0" stroke-width="1.15" stroke-linejoin="round"/><path d="M394.70 136.06L397.30 141.06L392.10 141.06Z" fill="#3DBDF0"/><path d="M406.79 136.27L409.39 141.27L404.19 141.27Z" fill="#3DBDF0"/><path d="M418.88 137.83L421.48 142.83L416.27 142.83Z" fill="#3DBDF0"/><path d="M430.96 141.29L433.56 146.29L428.36 146.29Z" fill="#3DBDF0"/><path d="M443.05 147.38L445.65 152.38L440.45 152.38Z" fill="#3DBDF0"/><path d="M455.14 154.31L457.74 159.31L452.54 159.31Z" fill="#3DBDF0"/><path d="M467.23 162.94L469.83 167.94L464.62 167.94Z" fill="#3DBDF0"/><path d="M479.31 172.14L481.91 177.14L476.71 177.14Z" fill="#3DBDF0"/><path d="M491.40 184.17L494.00 189.17L488.80 189.17Z" fill="#3DBDF0"/><path d="M503.49 192.66L506.09 197.66L500.89 197.66Z" fill="#3DBDF0"/><path d="M515.58 202.77L518.18 207.77L512.98 207.77Z" fill="#3DBDF0"/><path d="M527.66 208.22L530.26 213.22L525.06 213.22Z" fill="#3DBDF0"/><path d="M539.75 210.13L542.35 215.13L537.15 215.13Z" fill="#3DBDF0"/><path d="M551.84 208.22L554.44 213.22L549.24 213.22Z" fill="#3DBDF0"/><path d="M563.92 202.77L566.52 207.77L561.32 207.77Z" fill="#3DBDF0"/><path d="M576.01 194.28L578.61 199.28L573.41 199.28Z" fill="#3DBDF0"/><path d="M588.10 182.05L590.70 187.05L585.50 187.05Z" fill="#3DBDF0"/><path d="M600.19 171.08L602.79 176.08L597.59 176.08Z" fill="#3DBDF0"/><path d="M612.27 160.11L614.88 165.11L609.67 165.11Z" fill="#3DBDF0"/><path d="M624.36 148.44L626.96 153.44L621.76 153.44Z" fill="#3DBDF0"/><path d="M636.45 141.01L639.05 146.01L633.85 146.01Z" fill="#3DBDF0"/><path d="M648.54 135.63L651.14 140.63L645.94 140.63Z" fill="#3DBDF0"/><path d="M660.62 132.52L663.23 137.52L658.02 137.52Z" fill="#3DBDF0"/><path d="M672.71 131.25L675.31 136.25L670.11 136.25Z" fill="#3DBDF0"/><path d="M684.80 133.79L687.40 138.79L682.20 138.79Z" fill="#3DBDF0"/><polyline points="394.70,145.17 406.79,146.37 418.88,149.77 430.96,155.78 443.05,163.57 455.14,172.20 467.23,184.44 479.31,195.05 491.40,205.66 503.49,214.86 515.58,224.27 527.66,229.58 539.75,230.99 551.84,229.58 563.92,224.77 576.01,216.28 588.10,206.37 600.19,196.47 612.27,185.85 624.36,175.95 636.45,165.34 648.54,156.85 660.62,149.06 672.71,141.99 684.80,138.45" fill="none" stroke="#3DBDF0" stroke-width="1.15" stroke-linejoin="round"/><rect x="393.10" y="143.57" width="3.20" height="3.20" fill="none" stroke="#3DBDF0" stroke-width="1.35"/><rect x="405.19" y="144.77" width="3.20" height="3.20" fill="none" stroke="#3DBDF0" stroke-width="1.35"/><rect x="417.27" y="148.17" width="3.20" height="3.20" fill="none" stroke="#3DBDF0" stroke-width="1.35"/><rect x="429.36" y="154.18" width="3.20" height="3.20" fill="none" stroke="#3DBDF0" stroke-width="1.35"/><rect x="441.45" y="161.97" width="3.20" height="3.20" fill="none" stroke="#3DBDF0" stroke-width="1.35"/><rect x="453.54" y="170.60" width="3.20" height="3.20" fill="none" stroke="#3DBDF0" stroke-width="1.35"/><rect x="465.62" y="182.84" width="3.20" height="3.20" fill="none" stroke="#3DBDF0" stroke-width="1.35"/><rect x="477.71" y="193.45" width="3.20" height="3.20" fill="none" stroke="#3DBDF0" stroke-width="1.35"/><rect x="489.80" y="204.06" width="3.20" height="3.20" fill="none" stroke="#3DBDF0" stroke-width="1.35"/><rect x="501.89" y="213.26" width="3.20" height="3.20" fill="none" stroke="#3DBDF0" stroke-width="1.35"/><rect x="513.98" y="222.67" width="3.20" height="3.20" fill="none" stroke="#3DBDF0" stroke-width="1.35"/><rect x="526.06" y="227.98" width="3.20" height="3.20" fill="none" stroke="#3DBDF0" stroke-width="1.35"/><rect x="538.15" y="229.39" width="3.20" height="3.20" fill="none" stroke="#3DBDF0" stroke-width="1.35"/><rect x="550.24" y="227.98" width="3.20" height="3.20" fill="none" stroke="#3DBDF0" stroke-width="1.35"/><rect x="562.32" y="223.17" width="3.20" height="3.20" fill="none" stroke="#3DBDF0" stroke-width="1.35"/><rect x="574.41" y="214.68" width="3.20" height="3.20" fill="none" stroke="#3DBDF0" stroke-width="1.35"/><rect x="586.50" y="204.77" width="3.20" height="3.20" fill="none" stroke="#3DBDF0" stroke-width="1.35"/><rect x="598.59" y="194.87" width="3.20" height="3.20" fill="none" stroke="#3DBDF0" stroke-width="1.35"/><rect x="610.67" y="184.25" width="3.20" height="3.20" fill="none" stroke="#3DBDF0" stroke-width="1.35"/><rect x="622.76" y="174.35" width="3.20" height="3.20" fill="none" stroke="#3DBDF0" stroke-width="1.35"/><rect x="634.85" y="163.74" width="3.20" height="3.20" fill="none" stroke="#3DBDF0" stroke-width="1.35"/><rect x="646.94" y="155.25" width="3.20" height="3.20" fill="none" stroke="#3DBDF0" stroke-width="1.35"/><rect x="659.02" y="147.46" width="3.20" height="3.20" fill="none" stroke="#3DBDF0" stroke-width="1.35"/><rect x="671.11" y="140.39" width="3.20" height="3.20" fill="none" stroke="#3DBDF0" stroke-width="1.35"/><rect x="683.20" y="136.85" width="3.20" height="3.20" fill="none" stroke="#3DBDF0" stroke-width="1.35"/><polyline points="394.70,143.61 406.79,141.28 418.88,138.45 430.96,134.21 443.05,128.55 455.14,120.06 467.23,110.50 479.31,100.25 491.40,89.63 503.49,79.73 515.58,69.12 527.66,63.10 539.75,60.63 551.84,62.39 563.92,67.70 576.01,76.19 588.10,88.01 600.19,98.12 612.27,110.15 624.36,122.18 636.45,132.79 648.54,140.57 660.62,147.22 672.71,151.54 684.80,155.08" fill="none" stroke="#FF8C00" stroke-width="1.60" stroke-linejoin="round"/><polyline points="394.70,159.68 406.79,163.21 418.88,166.75 430.96,171.00 443.05,175.95 455.14,183.02 467.23,191.51 479.31,200.00 491.40,209.20 503.49,219.11 515.58,229.01 527.66,233.26 539.75,234.53 551.84,233.26 563.92,229.01 576.01,220.52 588.10,210.62 600.19,199.30 612.27,190.81 624.36,182.31 636.45,174.53 648.54,168.17 660.62,164.63 672.71,161.44 684.80,158.97" fill="none" stroke="#00F0F0" stroke-width="1.60" stroke-linejoin="round"/><polyline points="394.70,173.12 406.79,173.12 418.88,171.00 430.96,165.69 443.05,157.55 455.14,144.82 467.23,129.61 479.31,111.92 491.40,94.09 503.49,77.25 515.58,63.10 527.66,54.61 539.75,51.43 551.84,55.32 563.92,65.01 576.01,80.08 588.10,98.97 600.19,119.70 612.27,140.22 624.36,158.61 636.45,173.12 648.54,183.73 660.62,189.39 672.71,190.81 684.80,187.98" fill="none" stroke="#C71585" stroke-width="1.70" stroke-linejoin="round"/><circle cx="394.70" cy="173.12" r="3.60" fill="#C71585"/><circle cx="406.79" cy="173.12" r="3.60" fill="#C71585"/><circle cx="418.88" cy="171.00" r="3.60" fill="#C71585"/><circle cx="430.96" cy="165.69" r="3.60" fill="#C71585"/><circle cx="443.05" cy="157.55" r="3.60" fill="#C71585"/><circle cx="455.14" cy="144.82" r="3.60" fill="#C71585"/><circle cx="467.23" cy="129.61" r="3.60" fill="#C71585"/><circle cx="479.31" cy="111.92" r="3.60" fill="#C71585"/><circle cx="491.40" cy="94.09" r="3.60" fill="#C71585"/><circle cx="503.49" cy="77.25" r="3.60" fill="#C71585"/><circle cx="515.58" cy="63.10" r="3.60" fill="#C71585"/><circle cx="527.66" cy="54.61" r="3.60" fill="#C71585"/><circle cx="539.75" cy="51.43" r="3.60" fill="#C71585"/><circle cx="551.84" cy="55.32" r="3.60" fill="#C71585"/><circle cx="563.92" cy="65.01" r="3.60" fill="#C71585"/><circle cx="576.01" cy="80.08" r="3.60" fill="#C71585"/><circle cx="588.10" cy="98.97" r="3.60" fill="#C71585"/><circle cx="600.19" cy="119.70" r="3.60" fill="#C71585"/><circle cx="612.27" cy="140.22" r="3.60" fill="#C71585"/><circle cx="624.36" cy="158.61" r="3.60" fill="#C71585"/><circle cx="636.45" cy="173.12" r="3.60" fill="#C71585"/><circle cx="648.54" cy="183.73" r="3.60" fill="#C71585"/><circle cx="660.62" cy="189.39" r="3.60" fill="#C71585"/><circle cx="672.71" cy="190.81" r="3.60" fill="#C71585"/><circle cx="684.80" cy="187.98" r="3.60" fill="#C71585"/><polyline points="394.70,115.67 406.79,114.40 418.88,116.87 430.96,122.89 443.05,133.14 455.14,147.65 467.23,165.34 479.31,184.79 491.40,203.68 503.49,220.87 515.58,233.96 527.66,241.96 539.75,244.36 551.84,240.90 563.92,232.90 576.01,221.23 588.10,209.20 600.19,196.47 612.27,185.85 624.36,178.21 636.45,173.26 648.54,171.84 660.62,173.26 672.71,175.95 684.80,177.79" fill="none" stroke="#0000CD" stroke-width="1.70" stroke-linejoin="round"/><circle cx="394.70" cy="115.67" r="3.60" fill="#0000CD"/><circle cx="406.79" cy="114.40" r="3.60" fill="#0000CD"/><circle cx="418.88" cy="116.87" r="3.60" fill="#0000CD"/><circle cx="430.96" cy="122.89" r="3.60" fill="#0000CD"/><circle cx="443.05" cy="133.14" r="3.60" fill="#0000CD"/><circle cx="455.14" cy="147.65" r="3.60" fill="#0000CD"/><circle cx="467.23" cy="165.34" r="3.60" fill="#0000CD"/><circle cx="479.31" cy="184.79" r="3.60" fill="#0000CD"/><circle cx="491.40" cy="203.68" r="3.60" fill="#0000CD"/><circle cx="503.49" cy="220.87" r="3.60" fill="#0000CD"/><circle cx="515.58" cy="233.96" r="3.60" fill="#0000CD"/><circle cx="527.66" cy="241.96" r="3.60" fill="#0000CD"/><circle cx="539.75" cy="244.36" r="3.60" fill="#0000CD"/><circle cx="551.84" cy="240.90" r="3.60" fill="#0000CD"/><circle cx="563.92" cy="232.90" r="3.60" fill="#0000CD"/><circle cx="576.01" cy="221.23" r="3.60" fill="#0000CD"/><circle cx="588.10" cy="209.20" r="3.60" fill="#0000CD"/><circle cx="600.19" cy="196.47" r="3.60" fill="#0000CD"/><circle cx="612.27" cy="185.85" r="3.60" fill="#0000CD"/><circle cx="624.36" cy="178.21" r="3.60" fill="#0000CD"/><circle cx="636.45" cy="173.26" r="3.60" fill="#0000CD"/><circle cx="648.54" cy="171.84" r="3.60" fill="#0000CD"/><circle cx="660.62" cy="173.26" r="3.60" fill="#0000CD"/><circle cx="672.71" cy="175.95" r="3.60" fill="#0000CD"/><circle cx="684.80" cy="177.79" r="3.60" fill="#0000CD"/></g><rect x="394.70" y="4.40" width="290.10" height="289.70" fill="none" stroke="#7a7a7a" stroke-width="1.1"/><line x1="389.90" y1="11.10" x2="394.70" y2="11.10" stroke="#7a7a7a" stroke-width="1.1"/><text x="385.70" y="15.10" text-anchor="end" class="tk">2</text><line x1="389.90" y1="81.85" x2="394.70" y2="81.85" stroke="#7a7a7a" stroke-width="1.1"/><text x="385.70" y="85.85" text-anchor="end" class="tk">1</text><line x1="389.90" y1="152.60" x2="394.70" y2="152.60" stroke="#7a7a7a" stroke-width="1.1"/><text x="385.70" y="156.60" text-anchor="end" class="tk">0</text><line x1="389.90" y1="223.35" x2="394.70" y2="223.35" stroke="#7a7a7a" stroke-width="1.1"/><text x="385.70" y="227.35" text-anchor="end" class="tk">−1</text><line x1="389.90" y1="294.10" x2="394.70" y2="294.10" stroke="#7a7a7a" stroke-width="1.1"/><text x="385.70" y="298.10" text-anchor="end" class="tk">−2</text><line x1="418.88" y1="294.10" x2="418.88" y2="298.70" stroke="#7a7a7a" stroke-width="1.1"/><text x="418.88" y="312.00" text-anchor="middle" class="tk">−10</text><line x1="479.31" y1="294.10" x2="479.31" y2="298.70" stroke="#7a7a7a" stroke-width="1.1"/><text x="479.31" y="312.00" text-anchor="middle" class="tk">−5</text><line x1="539.75" y1="294.10" x2="539.75" y2="298.70" stroke="#7a7a7a" stroke-width="1.1"/><text x="539.75" y="312.00" text-anchor="middle" class="tk">0</text><line x1="600.19" y1="294.10" x2="600.19" y2="298.70" stroke="#7a7a7a" stroke-width="1.1"/><text x="600.19" y="312.00" text-anchor="middle" class="tk">5</text><line x1="660.62" y1="294.10" x2="660.62" y2="298.70" stroke="#7a7a7a" stroke-width="1.1"/><text x="660.62" y="312.00" text-anchor="middle" class="tk">10</text><text x="539.75" y="326.70" text-anchor="middle" class="ti">Lag (month)</text><text transform="translate(363.00,150.20) rotate(-90)" text-anchor="middle" class="ti">SSTA (°C)</text><line x1="398.70" y1="11.90" x2="411.10" y2="11.90" stroke="#FFD42A" stroke-width="1.0"/><path d="M404.90 7.94L407.18 11.90L404.90 15.86L402.62 11.90Z" fill="#FFD42A"/><text x="415.00" y="14.50" class="lg">El Niño CESM1-CAM5-SE-HR</text><line x1="398.70" y1="19.70" x2="411.10" y2="19.70" stroke="#3DBDF0" stroke-width="1.0"/><path d="M404.90 15.74L407.18 19.70L404.90 23.66L402.62 19.70Z" fill="#3DBDF0"/><text x="415.00" y="22.30" class="lg">La Niña CESM1-CAM5-SE-HR</text><line x1="398.70" y1="27.50" x2="411.10" y2="27.50" stroke="#FFD42A" stroke-width="1.0"/><circle cx="404.90" cy="27.50" r="2.00" fill="none" stroke="#FFD42A" stroke-width="1.15"/><text x="415.00" y="30.10" class="lg">El Niño CESM-iHESP</text><line x1="398.70" y1="35.35" x2="411.10" y2="35.35" stroke="#3DBDF0" stroke-width="1.0"/><circle cx="404.90" cy="35.35" r="2.00" fill="none" stroke="#3DBDF0" stroke-width="1.15"/><text x="415.00" y="37.95" class="lg">La Niña CESM-iHESP</text><line x1="509.50" y1="11.90" x2="521.90" y2="11.90" stroke="#FFD42A" stroke-width="1.0"/><path d="M515.70 8.18L518.82 14.18L512.58 14.18Z" fill="#FFD42A"/><text x="525.80" y="14.50" class="lg">El Niño FGOALS-f3-H</text><line x1="509.50" y1="19.70" x2="521.90" y2="19.70" stroke="#3DBDF0" stroke-width="1.0"/><path d="M515.70 15.98L518.82 21.98L512.58 21.98Z" fill="#3DBDF0"/><text x="525.80" y="22.30" class="lg">La Niña FGOALS-f3-H</text><line x1="509.50" y1="27.50" x2="521.90" y2="27.50" stroke="#FFD42A" stroke-width="1.0"/><rect x="513.78" y="25.58" width="3.84" height="3.84" fill="none" stroke="#FFD42A" stroke-width="1.62"/><text x="525.80" y="30.10" class="lg">El Niño HadGEM3-GC31-HH</text><line x1="509.50" y1="35.35" x2="521.90" y2="35.35" stroke="#3DBDF0" stroke-width="1.0"/><rect x="513.78" y="33.43" width="3.84" height="3.84" fill="none" stroke="#3DBDF0" stroke-width="1.62"/><text x="525.80" y="37.95" class="lg">La Niña HadGEM3-GC31-HH</text><line x1="618.30" y1="11.90" x2="631.30" y2="11.90" stroke="#FF8C00" stroke-width="1.60"/><text x="635.80" y="14.50" class="lg">El Niño fine</text><line x1="618.30" y1="19.70" x2="631.30" y2="19.70" stroke="#00F0F0" stroke-width="1.60"/><text x="635.80" y="22.30" class="lg">La Niña fine</text><line x1="618.3" y1="27.50" x2="631" y2="27.50" stroke="#C71585" stroke-width="1.5"/><circle cx="624.5" cy="27.50" r="3.3" fill="#C71585"/><text x="635.80" y="30.10" class="lg">El Niño obs</text><line x1="618.3" y1="35.35" x2="631" y2="35.35" stroke="#0000CD" stroke-width="1.5"/><circle cx="624.5" cy="35.35" r="3.3" fill="#0000CD"/><text x="635.80" y="37.95" class="lg">La Niña obs</text>
<text x="-0.8" y="9.7" class="pl">a</text><text x="352.6" y="9.1" class="pl">b</text>
</svg></div>
</body></html>
